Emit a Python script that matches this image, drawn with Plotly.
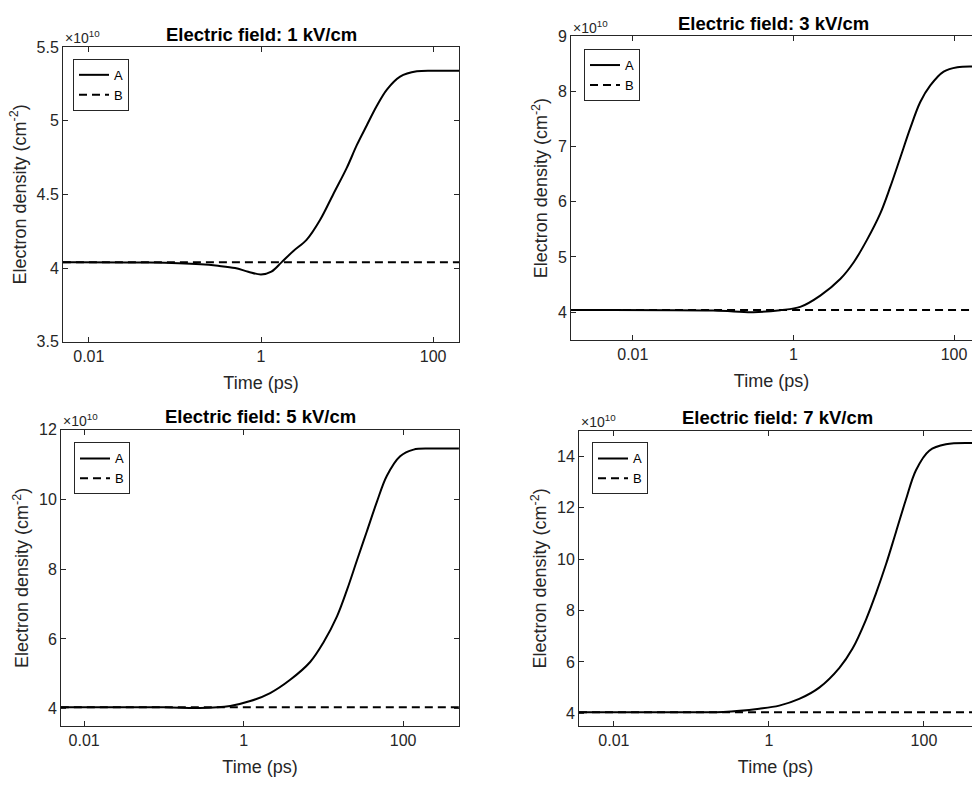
import plotly.graph_objects as go

# ---------------- data (densities in units of 1e10 cm^-2, time in ps) ----------------
field_labels = ["1", "3", "5", "7"]

t_1kV = [0.005, 0.05, 0.2, 0.316, 0.5, 0.71, 1.0, 1.32, 1.74, 2.38, 3.40, 4.85, 6.93, 9.91,
         13.0, 16.9, 22.1, 29.0, 41.3, 64.6, 110, 200]
A_1kV = [4.04, 4.037, 4.025, 4.015, 4.0, 3.975, 3.956, 3.975, 4.04, 4.116, 4.193, 4.326, 4.503, 4.68,
         4.836, 4.968, 5.10, 5.212, 5.30, 5.336, 5.34, 5.34]

t_3kV = [0.0017, 0.1, 0.316, 0.685, 1.216, 2.16, 3.83, 5.61, 8.24, 12.08, 16.07, 21.4, 28.6,
         38.0, 50.7, 74.3, 110, 200]
A_3kV = [4.04, 4.03, 4.00, 4.036, 4.095, 4.30, 4.60, 4.90, 5.31, 5.79, 6.27, 6.80, 7.34,
         7.81, 8.11, 8.36, 8.44, 8.45]

t_5kV = [0.0051, 0.1, 0.282, 0.678, 1.21, 2.15, 3.83, 6.82, 10.0, 14.8, 19.7, 26.3, 35.1,
         46.8, 62.5, 91.6, 135, 219, 500]
A_5kV = [4.04, 4.04, 4.02, 4.08, 4.22, 4.45, 4.83, 5.34, 5.90, 6.65, 7.40, 8.25, 9.09,
         9.93, 10.68, 11.24, 11.43, 11.46, 11.46]

t_7kV = [0.00355, 0.1, 0.257, 0.75, 1.36, 2.46, 4.46, 8.07, 12.0, 17.9, 24.0, 32.4, 43.6,
         58.6, 78.9, 117, 192, 500]
A_7kV = [4.04, 4.04, 4.05, 4.18, 4.30, 4.56, 5.0, 5.76, 6.52, 7.65, 8.66, 9.80, 11.06,
         12.32, 13.46, 14.22, 14.47, 14.51]

tB_1kV = [0.005, 200]
B_1kV = [4.04, 4.04]
tB_3kV = [0.0017, 200]
B_3kV = [4.04, 4.04]
tB_5kV = [0.0051, 500]
B_5kV = [4.04, 4.04]
tB_7kV = [0.00355, 500]
B_7kV = [4.04, 4.04]

x_tickvals = [0.01, 1, 100]
x_ticktext = ["0.01", "1", "100"]

y_ticks_1kV = [3.5, 4, 4.5, 5, 5.5]
y_ticks_3kV = [4, 5, 6, 7, 8, 9]
y_ticks_5kV = [4, 6, 8, 10, 12]
y_ticks_7kV = [4, 6, 8, 10, 12, 14]

# ---------------- layout helpers ----------------
W, H = 972, 789
FONT = "Liberation Sans, Arial, Helvetica, sans-serif"
AXC = "#262626"
TICK_SIZE = 16
LABEL_SIZE = 18
TITLE_SIZE = 18.5


def px_x(v):
    return v / W


def px_y(v):
    return 1 - v / H


panels = [
    dict(t=t_1kV, A=A_1kV, tB=tB_1kV, B=B_1kV, yt=y_ticks_1kV, field=field_labels[0],
         xd=[63, 459], yd=[40, 341], xr=[-2.30, 2.30], yr=[3.5, 5.5], right=True, leg=[73, 52]),
    dict(t=t_3kV, A=A_3kV, tB=tB_3kV, B=B_3kV, yt=y_ticks_3kV, field=field_labels[1],
         xd=[571, 972], yd=[29, 339], xr=[-2.77, 2.224], yr=[3.5, 9], right=False, leg=[584, 42]),
    dict(t=t_5kV, A=A_5kV, tB=tB_5kV, B=B_5kV, yt=y_ticks_5kV, field=field_labels[2],
         xd=[61, 459], yd=[431, 734], xr=[-2.29, 2.70], yr=[3.5, 12], right=True, leg=[74, 444]),
    dict(t=t_7kV, A=A_7kV, tB=tB_7kV, B=B_7kV, yt=y_ticks_7kV, field=field_labels[3],
         xd=[579, 972], yd=[432, 734], xr=[-2.45, 2.62], yr=[3.5, 15], right=False, leg=[592, 444]),
]

fig = go.Figure()
annotations = []
layout = dict(
    width=W, height=H, autosize=False,
    margin=dict(l=0, r=0, t=0, b=0),
    paper_bgcolor="white", plot_bgcolor="white",
    font=dict(family=FONT, color=AXC),
)

for i, p in enumerate(panels):
    s = "" if i == 0 else str(i + 1)
    leg = "legend" + s
    fig.add_trace(go.Scatter(
        x=p["t"], y=p["A"], mode="lines", name="A",
        line=dict(color="black", width=2, shape="spline", smoothing=1.0),
        xaxis="x" + s, yaxis="y" + s, legend=leg, showlegend=True))
    fig.add_trace(go.Scatter(
        x=p["tB"], y=p["B"], mode="lines", name="B",
        line=dict(color="black", width=2, dash="8px,5px"),
        xaxis="x" + s, yaxis="y" + s, legend=leg, showlegend=True))

    x0, x1 = p["xd"]
    ytop, ybot = p["yd"]
    layout["xaxis" + s] = dict(
        domain=[px_x(x0), px_x(x1)], type="log", range=p["xr"], anchor="y" + s,
        showline=True, linecolor=AXC, linewidth=1, mirror="ticks",
        ticks="inside", ticklen=5, tickcolor=AXC, tickwidth=1,
        tickvals=x_tickvals, ticktext=x_ticktext,
        tickfont=dict(size=TICK_SIZE, color=AXC, family=FONT),
        showgrid=False, zeroline=False,
        title=dict(text="Time (ps)", font=dict(size=LABEL_SIZE, color=AXC, family=FONT), standoff=12),
    )
    layout["yaxis" + s] = dict(
        domain=[px_y(ybot), px_y(ytop)], range=p["yr"], anchor="x" + s,
        showline=True, linecolor=AXC, linewidth=1,
        mirror="ticks" if p["right"] else False,
        ticks="inside", ticklen=5, tickcolor=AXC, tickwidth=1,
        tickvals=p["yt"], ticktext=[("%g" % v) for v in p["yt"]],
        tickfont=dict(size=TICK_SIZE, color=AXC, family=FONT),
        showgrid=False, zeroline=False,
        title=dict(text="Electron density (cm<sup>-2</sup>)",
                   font=dict(size=LABEL_SIZE, color=AXC, family=FONT), standoff=5),
    )
    layout[leg] = dict(
        x=px_x(p["leg"][0]), y=px_y(p["leg"][1]), xanchor="left", yanchor="top",
        bordercolor=AXC, borderwidth=1, bgcolor="white",
        font=dict(size=13, color="black", family=FONT),
        itemwidth=30, tracegroupgap=0,
    )
    # title
    annotations.append(dict(
        text="<b>Electric field: %s kV/cm</b>" % p["field"],
        x=px_x((x0 + x1) / 2) if p["right"] else px_x((x0 + 975) / 2),
        y=px_y(ytop - 13), xref="paper", yref="paper",
        xanchor="center", yanchor="middle", showarrow=False,
        font=dict(size=TITLE_SIZE, color="black", family=FONT)))
    # exponent label
    annotations.append(dict(
        text="×10<sup>10</sup>", x=px_x(x0), y=px_y(ytop - 10), xref="paper", yref="paper",
        xanchor="left", yanchor="middle", showarrow=False,
        font=dict(size=14, color=AXC, family=FONT)))

layout["annotations"] = annotations
fig.update_layout(**layout)
fig.write_html("out.html", config={"displayModeBar": False},
               post_script="document.body.style.margin='0';")
